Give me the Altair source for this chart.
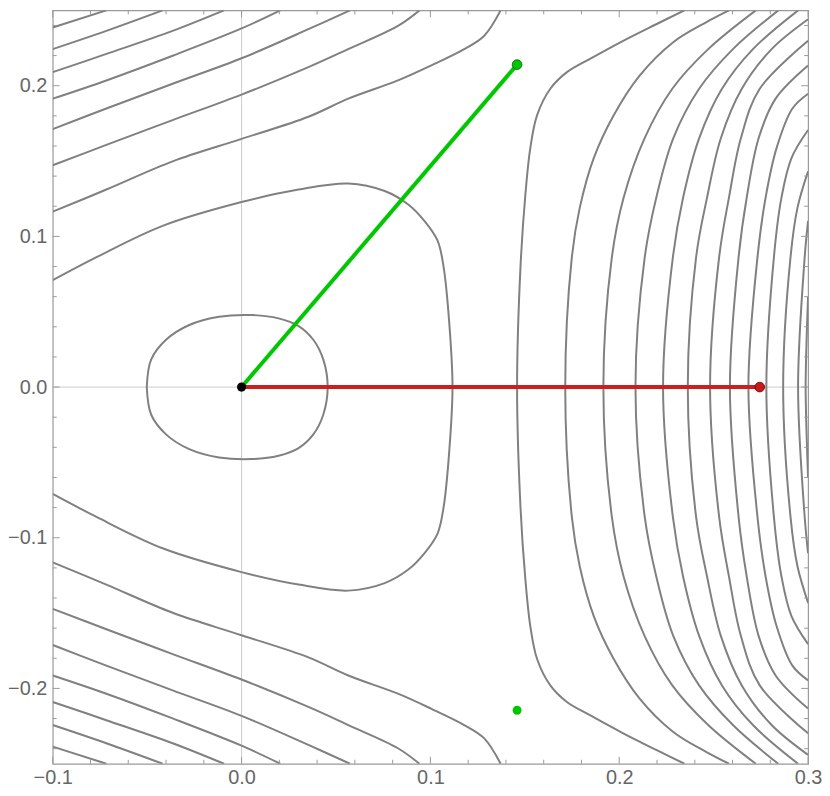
import altair as alt
import pandas as pd

# ---------------- data ----------------
# The picture is mirror-symmetric about y = 0; the upper halves are listed.
# Curves that cross y = 0 (listed from the frame edge / start down to y = 0)
loop_x = [-0.0502, -0.0479, -0.0400, -0.0277, -0.0119, 0.0056, 0.0196, 0.0302, 0.0380, 0.0433, 0.0456]
loop_y = [0.0, 0.0182, 0.0314, 0.0412, 0.0467, 0.0478, 0.0456, 0.0405, 0.0314, 0.0182, 0.0]

b_x = [-0.1, -0.0768, -0.0418, 0.0, 0.0302, 0.0565, 0.0758, 0.0881, 0.0968, 0.1038, 0.1070, 0.1100, 0.1117]
b_y = [0.0709, 0.0862, 0.1070, 0.1228, 0.1311, 0.1351, 0.1301, 0.1213, 0.1103, 0.0972, 0.0796, 0.0423, 0.0]

r0_x = [0.2345, 0.2196, 0.2021, 0.1845, 0.1723, 0.1635, 0.1565, 0.1529, 0.1503, 0.1477, 0.1459]
r0_y = [0.25, 0.2408, 0.2298, 0.2178, 0.2090, 0.1980, 0.1805, 0.1586, 0.1278, 0.0796, 0.0]

r1_x = [0.2581, 0.2460, 0.2286, 0.2107, 0.1970, 0.1865, 0.1791, 0.1749, 0.1714]
r1_y = [0.25, 0.2421, 0.2289, 0.2066, 0.1803, 0.1520, 0.1191, 0.0862, 0.0]

r2_x = [0.2723, 0.2471, 0.2281, 0.2134, 0.2023, 0.1961, 0.1916]
r2_y = [0.25, 0.2243, 0.1980, 0.1651, 0.1257, 0.0862, 0.0]

r3_x = [0.2842, 0.2602, 0.2423, 0.2286, 0.2196, 0.2135, 0.2086]
r3_y = [0.25, 0.2243, 0.1980, 0.1651, 0.1257, 0.0862, 0.0]

r4_x = [0.2947, 0.2708, 0.2544, 0.2423, 0.2338, 0.2284, 0.2232]
r4_y = [0.25, 0.2243, 0.1980, 0.1651, 0.1257, 0.0862, 0.0]

r5_x = [0.3, 0.2807, 0.2649, 0.2538, 0.2465, 0.2407, 0.2363]
r5_y = [0.2441, 0.2243, 0.1980, 0.1651, 0.1257, 0.0862, 0.0]

r6_x = [0.3, 0.2744, 0.2644, 0.2581, 0.2529, 0.2481]
r6_y = [0.2298, 0.1980, 0.1651, 0.1257, 0.0862, 0.0]

r7_x = [0.3, 0.2828, 0.2738, 0.2675, 0.2632, 0.2586]
r7_y = [0.2134, 0.1914, 0.1651, 0.1257, 0.0862, 0.0]

r8_x = [0.3, 0.2917, 0.2833, 0.2775, 0.2732, 0.2684]
r8_y = [0.1947, 0.1849, 0.1586, 0.1257, 0.0862, 0.0]

r9_x = [0.3, 0.2912, 0.2859, 0.2819, 0.2779]
r9_y = [0.1706, 0.1520, 0.1257, 0.0862, 0.0]

r10_x = [0.3, 0.2944, 0.2907, 0.2868]
r10_y = [0.1432, 0.1191, 0.0862, 0.0]

r11_x = [0.3, 0.2982, 0.2947]
r11_y = [0.1103, 0.0862, 0.0]

r12_x = [0.3, 0.2993, 0.2987]
r12_y = [0.0600, 0.0350, 0.0]

# Curves that run from the left edge to the top edge (and their mirror images)
l0_x = [-0.1, -0.0716, -0.0365, 0.0, 0.0354, 0.0565, 0.0828, 0.1003, 0.1179, 0.1284, 0.1372]
l0_y = [0.1164, 0.1311, 0.1498, 0.1647, 0.1794, 0.1914, 0.2035, 0.2134, 0.2243, 0.2330, 0.25]

l1_x = [-0.1, -0.0716, -0.0365, 0.0, 0.0354, 0.0565, 0.0828, 0.0942]
l1_y = [0.1472, 0.1607, 0.1772, 0.1941, 0.2123, 0.2243, 0.2397, 0.25]

l2_x = [-0.1, -0.0716, -0.0365, 0.0, 0.0354, 0.0574]
l2_y = [0.1712, 0.1849, 0.2013, 0.2182, 0.2375, 0.25]

l3_x = [-0.1, -0.0716, -0.0365, 0.0, 0.0205]
l3_y = [0.1914, 0.2035, 0.2199, 0.2380, 0.25]

l4_x = [-0.1, -0.0716, -0.0365, -0.0093]
l4_y = [0.2090, 0.2211, 0.2364, 0.25]

l5_x = [-0.1, -0.0716, -0.0418]
l5_y = [0.2243, 0.2364, 0.25]

l6_x = [-0.1, -0.0716]
l6_y = [0.2386, 0.25]

# highlighted segments and points
origin = (0.0, 0.0)
red_pt = (0.2744, 0.0)
green_pt = (0.1459, 0.2140)
green_low = (0.1459, -0.2145)

x_major = [-0.1, 0.0, 0.1, 0.2, 0.3]
x_minor = [-0.08, -0.06, -0.04, -0.02, 0.02, 0.04, 0.06, 0.08, 0.12, 0.14, 0.16, 0.18,
           0.22, 0.24, 0.26, 0.28]
y_major = [-0.2, -0.1, 0.0, 0.1, 0.2]
y_minor = [-0.24, -0.22, -0.18, -0.16, -0.14, -0.12, -0.08, -0.06, -0.04, -0.02,
           0.02, 0.04, 0.06, 0.08, 0.12, 0.14, 0.16, 0.18, 0.22, 0.24]

# ---------------- build tables ----------------
joined = {"loop": (loop_x, loop_y), "b": (b_x, b_y), "r0": (r0_x, r0_y), "r1": (r1_x, r1_y),
          "r2": (r2_x, r2_y), "r3": (r3_x, r3_y), "r4": (r4_x, r4_y), "r5": (r5_x, r5_y),
          "r6": (r6_x, r6_y), "r7": (r7_x, r7_y), "r8": (r8_x, r8_y), "r9": (r9_x, r9_y),
          "r10": (r10_x, r10_y), "r11": (r11_x, r11_y), "r12": (r12_x, r12_y)}
separate = {"l0": (l0_x, l0_y), "l1": (l1_x, l1_y), "l2": (l2_x, l2_y), "l3": (l3_x, l3_y),
            "l4": (l4_x, l4_y), "l5": (l5_x, l5_y), "l6": (l6_x, l6_y)}

rows = []
for name, (xs, ys) in joined.items():
    fx = list(xs) + list(reversed(xs[:-1]))
    fy = list(ys) + [-v for v in reversed(ys[:-1])]
    for i, (a, b) in enumerate(zip(fx, fy)):
        rows.append({"curve": name, "x": a, "y": b, "i": i})
for name, (xs, ys) in separate.items():
    for sign, tag in ((1, "u"), (-1, "d")):
        for i, (a, b) in enumerate(zip(xs, ys)):
            rows.append({"curve": name + tag, "x": a, "y": sign * b, "i": i})
contours = pd.DataFrame(rows)

W, H = 760, 758
xsc = alt.Scale(domain=[-0.1, 0.3], nice=False, zero=False)
ysc = alt.Scale(domain=[-0.25, 0.25], nice=False, zero=False)
FRAME = "#999999"
LABEL = "#666666"

base_x = alt.X("x:Q", scale=xsc, title=None, axis=alt.Axis(values=x_major, format=".1f"))
base_y = alt.Y("y:Q", scale=ysc, title=None, axis=alt.Axis(values=y_major, format=".1f"))

zero_v = alt.Chart(pd.DataFrame({"x": [0.0]})).mark_rule(color="#cccccc", strokeWidth=1).encode(
    x=base_x, y=alt.value(0), y2=alt.value(H))
zero_h = alt.Chart(pd.DataFrame({"y": [0.0]})).mark_rule(color="#cccccc", strokeWidth=1).encode(
    y=base_y, x=alt.value(0), x2=alt.value(W))

lines = alt.Chart(contours).mark_line(color="#808080", strokeWidth=2, clip=True,
                                      interpolate="catmull-rom").encode(
    x=base_x, y=base_y, detail="curve:N", order="i:Q")

red_line = alt.Chart(pd.DataFrame({"x": [origin[0], red_pt[0]], "y": [origin[1], red_pt[1]]})).mark_line(
    color="#cc2020", strokeWidth=4).encode(x=base_x, y=base_y)
green_line = alt.Chart(pd.DataFrame({"x": [origin[0], green_pt[0]], "y": [origin[1], green_pt[1]]})).mark_line(
    color="#00c800", strokeWidth=4).encode(x=base_x, y=base_y)

pts_outlined = pd.DataFrame({"x": [red_pt[0], green_pt[0]], "y": [red_pt[1], green_pt[1]],
                             "fill": ["#cc1818", "#00c800"], "stroke": ["#5a0000", "#005a00"]})
pt_layer = alt.Chart(pts_outlined).mark_point(filled=True, size=95, opacity=1, strokeWidth=0.8).encode(
    x=base_x, y=base_y, fill=alt.Fill("fill:N", scale=None), stroke=alt.Stroke("stroke:N", scale=None))
low_pt = alt.Chart(pd.DataFrame({"x": [green_low[0]], "y": [green_low[1]]})).mark_circle(
    color="#00c800", size=80, opacity=1).encode(x=base_x, y=base_y)
origin_pt = alt.Chart(pd.DataFrame({"x": [origin[0]], "y": [origin[1]]})).mark_circle(
    color="#000000", size=85, opacity=1).encode(x=base_x, y=base_y)

# frame ticks (inward, on all four sides)
def xticks(vals, length):
    d = pd.DataFrame({"x": vals})
    bot = alt.Chart(d).mark_rule(color=FRAME, strokeWidth=1).encode(x=base_x, y=alt.value(H), y2=alt.value(H - length))
    top = alt.Chart(d).mark_rule(color=FRAME, strokeWidth=1).encode(x=base_x, y=alt.value(0), y2=alt.value(length))
    return [bot, top]

def yticks(vals, length):
    d = pd.DataFrame({"y": vals})
    lef = alt.Chart(d).mark_rule(color=FRAME, strokeWidth=1).encode(y=base_y, x=alt.value(0), x2=alt.value(length))
    rig = alt.Chart(d).mark_rule(color=FRAME, strokeWidth=1).encode(y=base_y, x=alt.value(W), x2=alt.value(W - length))
    return [lef, rig]

tick_layers = xticks(x_major, 7) + xticks(x_minor, 4) + yticks(y_major, 7) + yticks(y_minor, 4)

chart = alt.layer(
    zero_v, zero_h, lines, *tick_layers, red_line, green_line, pt_layer, low_pt, origin_pt
).properties(
    width=W, height=H,
    autosize=alt.AutoSizeParams(type="none"),
    padding={"left": 45, "top": 0, "right": 14, "bottom": 22},
).configure_view(stroke=FRAME, strokeWidth=1.2).configure_axis(
    grid=False, ticks=False, domain=False, labelFontSize=20, labelColor=LABEL,
    labelFont="Liberation Sans", labelFlush=False, labelOverlap=False
).configure_axisX(labelPadding=4).configure_axisY(labelPadding=6)

chart.save("out.html", embed_options={"renderer": "svg", "actions": False})
